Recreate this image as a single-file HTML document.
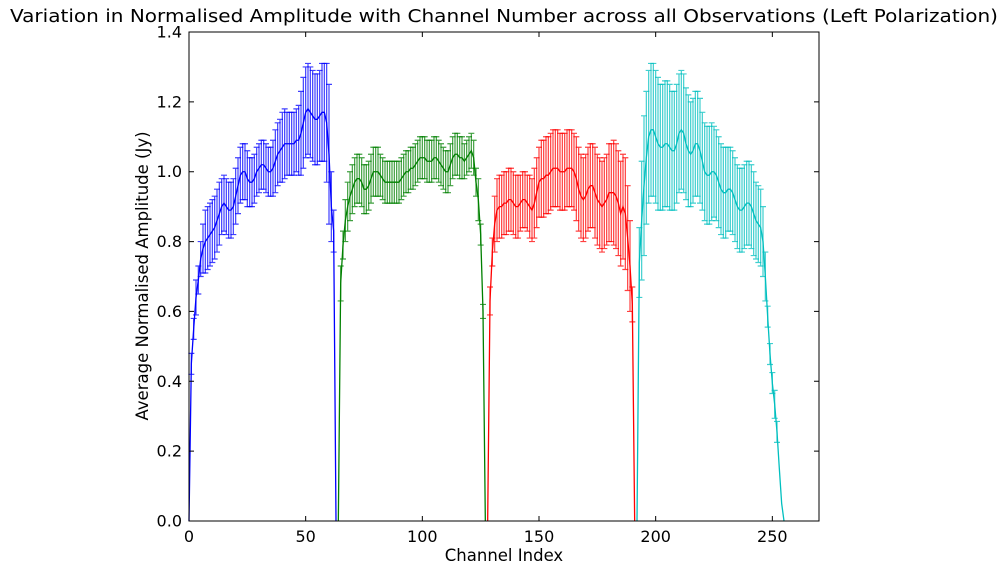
<!DOCTYPE html>
<html><head><meta charset="utf-8"><style>
body{margin:0;background:#fff;}
svg{display:block;font-family:"DejaVu Sans","Liberation Sans",sans-serif;}
</style></head><body>
<svg id="chart" width="1008" height="571" viewBox="0 0 1008 571" xmlns="http://www.w3.org/2000/svg">
<rect x="0" y="0" width="1008" height="571" fill="#fff"/>
<text x="504" y="22" text-anchor="middle" font-size="18" textLength="988" lengthAdjust="spacingAndGlyphs">Variation in Normalised Amplitude with Channel Number across all Observations (Left Polarization)</text>
<text x="504" y="561" text-anchor="middle" font-size="16.5">Channel Index</text>
<text x="148" y="276" text-anchor="middle" font-size="16.5" transform="rotate(-90 148 276)">Average Normalised Amplitude (Jy)</text>
<g id="marks"></g>
<g id="axes"></g>
</svg>
<script>
const segStarts = [0, 64, 128, 192];
const segColors = ["#0000ff", "#008000", "#ff0000", "#00bfbf"];
const blueMean = [0,0.45,0.55,0.64,0.69,0.75,0.78,0.80,0.81,0.82,0.83,0.84,0.86,0.88,0.90,0.91,0.90,0.89,0.89,0.90,0.93,0.96,0.99,1.00,1.00,0.98,0.97,0.97,0.98,1.00,1.01,1.02,1.02,1.01,1.00,1.00,1.01,1.03,1.05,1.06,1.07,1.08,1.08,1.08,1.08,1.08,1.09,1.09,1.11,1.14,1.17,1.18,1.17,1.16,1.15,1.15,1.16,1.17,1.17,1.14,1.05,0.90,0.83,0];
const blueErr = [0,0.03,0.03,0.05,0.04,0.05,0.07,0.09,0.09,0.09,0.09,0.09,0.09,0.09,0.08,0.08,0.08,0.08,0.08,0.08,0.08,0.08,0.08,0.08,0.08,0.08,0.07,0.07,0.07,0.07,0.07,0.07,0.07,0.07,0.07,0.07,0.08,0.09,0.09,0.09,0.10,0.10,0.09,0.09,0.09,0.09,0.09,0.10,0.12,0.13,0.13,0.13,0.13,0.13,0.13,0.13,0.13,0.14,0.14,0.17,0.20,0.10,0.06,0];
const greenMean = [0,0.68,0.79,0.86,0.90,0.93,0.95,0.97,0.98,0.98,0.97,0.95,0.95,0.96,0.98,1.00,1.00,1.00,0.99,0.98,0.97,0.97,0.97,0.97,0.97,0.97,0.97,0.98,0.99,1.00,1.00,1.01,1.01,1.02,1.03,1.04,1.04,1.04,1.03,1.03,1.03,1.04,1.04,1.03,1.02,1.01,1.00,1.00,1.02,1.04,1.05,1.05,1.04,1.04,1.03,1.04,1.05,1.06,1.04,0.97,0.92,0.82,0.60,0];
const greenErr = [0,0.05,0.04,0.06,0.07,0.07,0.07,0.07,0.07,0.07,0.07,0.07,0.07,0.07,0.07,0.07,0.07,0.07,0.06,0.06,0.06,0.06,0.06,0.06,0.06,0.06,0.06,0.06,0.06,0.06,0.06,0.06,0.06,0.06,0.06,0.06,0.06,0.06,0.06,0.06,0.06,0.06,0.06,0.06,0.06,0.06,0.06,0.06,0.06,0.06,0.06,0.06,0.06,0.06,0.05,0.05,0.05,0.05,0.05,0.04,0.06,0.03,0.02,0];
const redMean = [0,0.63,0.77,0.85,0.89,0.90,0.90,0.91,0.91,0.92,0.92,0.91,0.90,0.90,0.91,0.92,0.92,0.91,0.90,0.89,0.91,0.94,0.97,0.98,0.98,0.99,0.99,1.00,1.01,1.01,1.01,1.00,1.00,1.00,1.01,1.01,1.01,1.00,0.98,0.95,0.93,0.92,0.93,0.95,0.96,0.96,0.94,0.92,0.91,0.90,0.91,0.92,0.94,0.94,0.94,0.93,0.91,0.88,0.90,0.88,0.81,0.73,0.62,0];
const redErr = [0,0.04,0.04,0.08,0.09,0.09,0.09,0.09,0.09,0.09,0.09,0.09,0.09,0.09,0.08,0.08,0.08,0.08,0.09,0.09,0.10,0.10,0.10,0.11,0.11,0.11,0.11,0.11,0.11,0.11,0.11,0.11,0.11,0.11,0.11,0.11,0.11,0.11,0.12,0.12,0.12,0.12,0.12,0.12,0.12,0.12,0.13,0.13,0.13,0.13,0.13,0.13,0.14,0.14,0.15,0.15,0.15,0.15,0.15,0.16,0.15,0.13,0.05,0];
const cyanMean = [0,0.74,0.86,0.96,1.04,1.10,1.12,1.12,1.10,1.08,1.07,1.07,1.08,1.08,1.07,1.06,1.06,1.08,1.11,1.12,1.11,1.08,1.06,1.05,1.06,1.08,1.08,1.06,1.03,1.00,0.99,0.99,1.00,1.00,0.99,0.97,0.95,0.94,0.94,0.95,0.95,0.94,0.92,0.90,0.89,0.89,0.90,0.91,0.91,0.90,0.88,0.86,0.85,0.84,0.80,0.70,0.585,0.478,0.395,0.334,0.255,0.15,0.05,0];
const cyanErr = [0,0.10,0.17,0.20,0.19,0.19,0.19,0.19,0.19,0.19,0.18,0.18,0.18,0.18,0.18,0.17,0.17,0.17,0.17,0.17,0.17,0.16,0.16,0.15,0.15,0.15,0.15,0.15,0.14,0.14,0.14,0.14,0.14,0.13,0.13,0.13,0.13,0.13,0.13,0.12,0.12,0.12,0.12,0.12,0.12,0.12,0.12,0.12,0.12,0.12,0.12,0.11,0.11,0.11,0.10,0.07,0.03,0.03,0.03,0.04,0.03,0,0,0];
const xTicks = [0, 50, 100, 150, 200, 250];
const yTicks = ["0.0","0.2","0.4","0.6","0.8","1.0","1.2","1.4"];
const means = [blueMean, greenMean, redMean, cyanMean];
const errs = [blueErr, greenErr, redErr, cyanErr];

const X0=189, X1=819, Y0=521, Y1=32, XMAX=270, YMAX=1.4;
const sx = v => X0 + v/XMAX*(X1-X0);
const sy = v => Y0 - v/YMAX*(Y0-Y1);
const NS="http://www.w3.org/2000/svg";
const marks=document.getElementById('marks');
const axes=document.getElementById('axes');
function mk(tag, attrs, parent){const e=document.createElementNS(NS,tag);for(const k in attrs)e.setAttribute(k,attrs[k]);parent.appendChild(e);return e;}

means.forEach((arr, s) => {
  const g = mk('g', {}, marks);
  
  
  const col = segColors[s];
  arr.forEach((m, i) => {
    const e = errs[s][i];
    if (e <= 0) return;
    const x = sx(segStarts[s] + i);
    const bar = mk('path', {d:`M${x},${sy(m-e)}V${sy(m+e)}M${x-3},${sy(m-e)}H${x+3}M${x-3},${sy(m+e)}H${x+3}`, stroke:col, 'stroke-width':1.2, 'stroke-opacity':0.75, fill:'none'}, g);
    
    
  });
  const pts = arr.map((m,i)=>`${sx(segStarts[s]+i)},${sy(m)}`).join(' ');
  const line = mk('polyline', {points:pts, stroke:col, 'stroke-width':1.3, fill:'none'}, g);
  
  
});

const frame = mk('rect', {x:X0, y:Y1, width:X1-X0, height:Y0-Y1, fill:'none', stroke:'#000', 'stroke-width':1}, axes);


xTicks.forEach(t => {
  const x = sx(t);
  mk('path', {d:`M${x},${Y0}V${Y0-5}M${x},${Y1}V${Y1+5}`, stroke:'#000'}, axes);
  const lb = mk('text', {x:x, y:Y0+21, 'text-anchor':'middle', 'font-size':16}, axes);
  lb.textContent = t;
  
  
});
yTicks.forEach(t => {
  const y = sy(parseFloat(t));
  mk('path', {d:`M${X0},${y}H${X0+5}M${X1},${y}H${X1-5}`, stroke:'#000'}, axes);
  const lb = mk('text', {x:X0-7, y:y+5.5, 'text-anchor':'end', 'font-size':16}, axes);
  lb.textContent = t;
  
  
});
</script>
</body></html>
